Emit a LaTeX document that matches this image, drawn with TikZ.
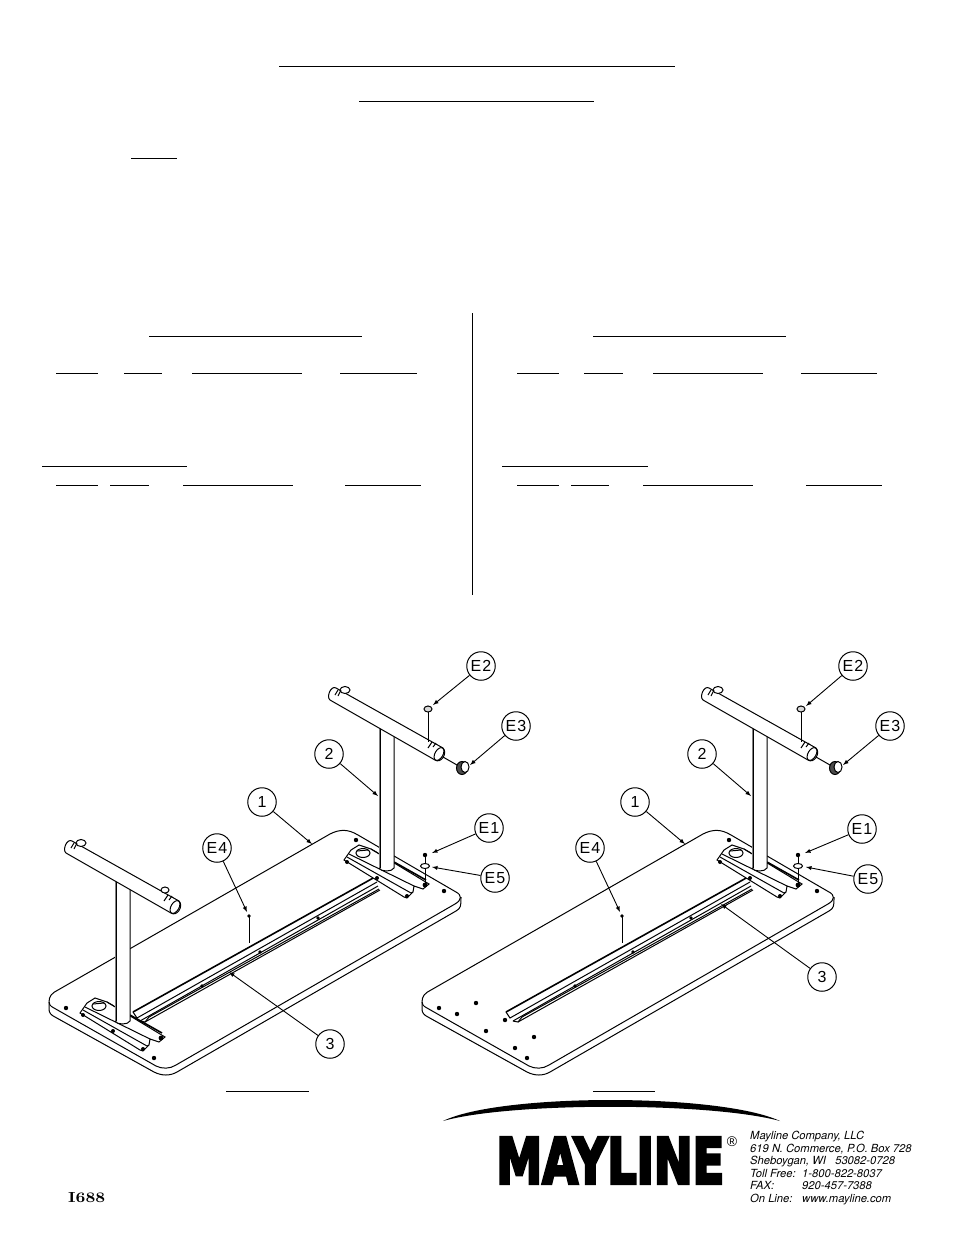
\documentclass[tikz,border=0pt]{standalone}
\usepackage{fontspec}
\usepackage{graphicx}
\setsansfont{Liberation Sans}
\newfontfamily\logofont[BoldFeatures={FakeBold=5}]{DejaVu Sans}
\newfontfamily\addrfont{TeX Gyre Heros}
\newfontfamily\tagfont[LetterSpace=6]{Liberation Sans}
\usetikzlibrary{calc}

\tikzset{
    partline/.style={line width=1pt},
    balloon/.style={circle, draw, line width=1pt, minimum size=28.5pt, inner sep=0pt, fill=white, font=\tagfont\fontsize{16}{16}\selectfont},
    leader/.style={-latex, line width=0.9pt},
    hdrule/.style={line width=1pt},
    tablebase/.pic={
        \draw[partline] (49,1002) .. controls (49,996) and (52,993) .. (58,990) -- (330,834) .. controls (340,829) and (348,829) .. (358,835) -- (456,892) .. controls (462,895) and (462,900) .. (455,904) -- (176,1065) .. controls (170,1069) and (162,1069) .. (156,1066) -- (54,1008) .. controls (50,1006) and (49,1004) .. (49,1002);
        \draw[partline] (49,1002) -- (49,1009) .. controls (49,1013) and (51,1015) .. (55,1017) -- (154,1072) .. controls (162,1076) and (170,1076) .. (177,1072) -- (456,911) .. controls (461,908) and (461,906) .. (461,897);
        % rail
        \draw[line width=1.6pt] (133,1012) -- (375,877);
        \draw[partline] (133,1012) -- (137,1018) -- (377,882);
        \draw[partline] (140,1021) -- (378,886);
        \draw[partline] (140,1021) -- (145,1022) -- (149,1017) -- (379,889);
        \draw[partline] (145,1022) -- (380,890);
        \fill (202,986) circle (1.8) (260,952) circle (1.8) (318,918) circle (1.8);
        \fill (249,916) circle (1.8);
        \draw[partline] (249,916) -- (249,943);
        \fill (356,840) circle (2.2) (444,891) circle (2.2);
    },
    legset/.pic={
        % bracket
        \draw[partline, fill=white] (344,860) -- (351,850) -- (359,845) -- (371,849) -- (429,884) -- (423,889) -- (414,886) -- (413,892) -- (407,898) -- (404,897) -- cycle;
        \draw[partline] (349,854) -- (414,886);
        \draw[partline] (347,857) -- (411,893) -- (413,892);
        \draw[line width=1.6pt] (394,862) -- (426,880);
        \draw[partline] (371,849) -- (378,853);
        \draw[partline, fill=white] (363,853) ellipse (7 and 4.5);
        \draw[partline] (357,851) -- (368,850);
        \fill (347,862) circle (2) (377,878) circle (2) (407,896) circle (2) (425,885) circle (2.4);
        % post
        \fill[white] (379,726) -- (394,735) -- (394,868) .. controls (392,872) and (381,872) .. (379,868) -- cycle;
        \draw[partline, gray] (379,726) -- (379,868);
        \draw[line width=0.5pt] (379.8,726) -- (379.8,868);
        \draw[partline] (394,735) -- (394,868) .. controls (392,872) and (381,872) .. (379,868);
        % tube
        \draw[partline, fill=white] (336,688) -- (443,748) .. controls (448,753) and (441,764) .. (435,760) -- (330,700) .. controls (326,697) and (331,685) .. (336,688) -- cycle;
        \draw[partline, rotate around={-30:(439,754)}] (439,754) ellipse (4 and 7);
        \draw[partline, fill=white] (345,690) ellipse (5 and 3.5);
        \draw[partline] (338,696) -- (341,690) (335,695) -- (338,690);
        \draw[partline] (428,748) -- (432,742) (433,747) -- (436,743);
    },
    tubehead/.pic={
        \draw[partline, fill=white] (429,737) ellipse (4 and 3);
    }
}

\begin{document}
\begin{tikzpicture}[x=1pt,y=-1pt]

    \useasboundingbox (0,0) rectangle (954,1235);

    % heading rules
    \draw[hdrule] (279,66) -- (675,66);
    \draw[hdrule] (359,101) -- (594,101);
    \draw[hdrule] (131,158) -- (177,158);
    \draw[hdrule] (472.5,313) -- (472.5,595);

    \draw[hdrule] (149,336) -- (362,336) (593,336) -- (786,336);
    \draw[hdrule] (56,373) -- (98,373) (124,373) -- (162,373) (192,373) -- (302,373) (340,373) -- (417,373);
    \draw[hdrule] (517,373) -- (559,373) (584,373) -- (623,373) (653,373) -- (763,373) (801,373) -- (877,373);
    \draw[hdrule] (42,466) -- (187,466) (502,466) -- (648,466);
    \draw[hdrule] (56,485) -- (98,485) (110,485) -- (149,485) (183,485) -- (293,485) (345,485) -- (421,485);
    \draw[hdrule] (517,485) -- (559,485) (571,485) -- (609,485) (643,485) -- (753,485) (806,485) -- (882,485);
    \draw[hdrule] (226,1091) -- (309,1091) (593,1091) -- (655,1091);

    % left table
    \pic at (0,0) {tablebase};
    \fill (66,1008) circle (2.2) (154,1058) circle (2.2);
    \pic at (0,0) {legset};
    \pic at (-264,153) {legset};
    \pic at (-264,153) {tubehead};

    % left hardware
    \draw[partline] (443,757) -- (457,765);
    \draw[partline, fill=black!70] (462,768) ellipse (5.5 and 6.5);
    \draw[partline, fill=white] (465,767) ellipse (4 and 5.5);
    \draw[partline] (428,712) -- (428,742);
    \draw[partline, fill=black!15] (428,709) ellipse (4 and 3);
    \draw[partline] (425,855) -- (425,885);
    \fill (425,855) circle (2.2);
    \draw[partline, fill=white] (425,866) ellipse (4.5 and 2.5);

    % right table
    \pic at (373,0) {tablebase};
    \fill (439,1008) circle (2.2) (476,1003) circle (2.2) (457,1014) circle (2.2) (505,1020) circle (2.2);
    \fill (486,1031) circle (2.2) (534,1037) circle (2.2) (515,1048) circle (2.2) (527,1058) circle (2.2);
    \pic at (373,0) {legset};

    % right hardware
    \draw[partline] (816,757) -- (830,765);
    \draw[partline, fill=black!70] (835,768) ellipse (5.5 and 6.5);
    \draw[partline, fill=white] (838,767) ellipse (4 and 5.5);
    \draw[partline] (801,712) -- (801,742);
    \draw[partline, fill=black!15] (801,709) ellipse (4 and 3);
    \draw[partline] (798,855) -- (798,885);
    \fill (798,855) circle (2.2);
    \draw[partline, fill=white] (798,866) ellipse (4.5 and 2.5);

    % balloons, left
    \node[balloon] (oneL) at (262,802) {1};
    \node[balloon] (twoL) at (329,754) {2};
    \node[balloon] (threeL) at (330,1044) {3};
    \node[balloon] (eoneL) at (489,828) {E1};
    \node[balloon] (etwoL) at (481,666) {E2};
    \node[balloon] (ethreeL) at (516,726) {E3};
    \node[balloon] (efourL) at (217,848) {E4};
    \node[balloon] (efiveL) at (495,878) {E5};

    \coordinate (tOneL) at (312,844);
    \coordinate (tTwoL) at (378,796);
    \coordinate (tThreeL) at (229,972);
    \coordinate (tEoneL) at (432,853);
    \coordinate (tEtwoL) at (433,705);
    \coordinate (tEthreeL) at (470,765);
    \coordinate (tEfourL) at (247,912);
    \coordinate (tEfiveL) at (432,867);

    \draw[leader] (oneL) -- (tOneL);
    \draw[leader] (twoL) -- (tTwoL);
    \draw[leader] (threeL) -- (tThreeL);
    \draw[leader] (eoneL) -- (tEoneL);
    \draw[leader] (etwoL) -- (tEtwoL);
    \draw[leader] (ethreeL) -- (tEthreeL);
    \draw[leader] (efourL) -- (tEfourL);
    \draw[leader] (efiveL) -- (tEfiveL);

    % balloons, right
    \node[balloon] (oneR) at (635,802) {1};
    \node[balloon] (twoR) at (702,754) {2};
    \node[balloon] (threeR) at (822,977) {3};
    \node[balloon] (eoneR) at (862,829) {E1};
    \node[balloon] (etwoR) at (853,666) {E2};
    \node[balloon] (ethreeR) at (890,726) {E3};
    \node[balloon] (efourR) at (590,848) {E4};
    \node[balloon] (efiveR) at (868,879) {E5};

    \coordinate (tOneR) at (685,844);
    \coordinate (tTwoR) at (751,796);
    \coordinate (tThreeR) at (721,904);
    \coordinate (tEoneR) at (805,853);
    \coordinate (tEtwoR) at (806,706);
    \coordinate (tEthreeR) at (843,765);
    \coordinate (tEfourR) at (620,912);
    \coordinate (tEfiveR) at (806,867);

    \draw[leader] (oneR) -- (tOneR);
    \draw[leader] (twoR) -- (tTwoR);
    \draw[leader] (threeR) -- (tThreeR);
    \draw[leader] (eoneR) -- (tEoneR);
    \draw[leader] (etwoR) -- (tEtwoR);
    \draw[leader] (ethreeR) -- (tEthreeR);
    \draw[leader] (efourR) -- (tEfourR);
    \draw[leader] (efiveR) -- (tEfiveR);

    % logo
    \fill (443,1121) .. controls (500,1093) and (720,1093) .. (780,1121) .. controls (710,1102) and (510,1102) .. (443,1121) -- cycle;
    \node[inner sep=0pt, anchor=west] (logo) at (496,1160.5) {\resizebox{228pt}{46pt}{\logofont\bfseries MAYLINE}};
    \node[inner sep=0pt, font=\sffamily\fontsize{14}{14}\selectfont] (regmark) at (732,1142) {\textregistered};
    \node[inner sep=0pt, anchor=north west, align=left, font=\addrfont\itshape\fontsize{11.2}{12.6}\selectfont] (addr) at (750,1131) {Mayline Company, LLC\\
        619 N. Commerce, P.O. Box 728\\
        Sheboygan, WI\ \ \ 53082-0728\\
        \makebox[52pt][l]{Toll Free:}1-800-822-8037\\
        \makebox[52pt][l]{FAX:}920-457-7388\\
        \makebox[52pt][l]{On Line:}www.mayline.com};
    \node[inner sep=0pt, anchor=west, font=\bfseries] (docno) at (68,1198) {\resizebox{37pt}{10pt}{I688}};

\end{tikzpicture}
\end{document}
